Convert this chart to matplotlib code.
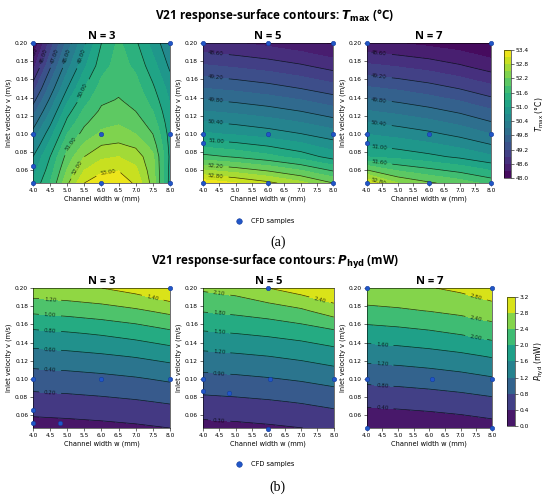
import numpy as np
import matplotlib
matplotlib.use('Agg')
import matplotlib.pyplot as plt
from matplotlib.lines import Line2D

# grids (w in mm, v in m/s)
w_fine = [4.0, 4.5, 5.0, 5.5, 6.0, 6.5, 7.0, 7.5, 8.0]
w_grid = [4.0, 5.0, 6.0, 7.0, 8.0]
v_fine = [0.046, 0.06, 0.075, 0.0875, 0.10, 0.1125, 0.125, 0.1375, 0.15, 0.175, 0.20]
v_grid = [0.046, 0.075, 0.10, 0.125, 0.15, 0.175, 0.20]

# Tmax (°C), rows bottom -> top
tmax_n3 = [
    [49.6, 50.5, 51.9, 53.0, 53.35, 53.4, 52.9, 51.8, 49.8],
    [49.3, 50.25, 51.55, 52.5, 52.9, 52.98, 52.6, 51.7, 49.85],
    [49.0, 50.0, 51.2, 52.0, 52.4, 52.5, 52.3, 51.6, 49.9],
    [48.6, 49.65, 50.85, 51.6, 52.0, 52.08, 51.9, 51.3, 49.85],
    [48.2, 49.3, 50.5, 51.2, 51.6, 51.7, 51.5, 51.0, 49.8],
    [47.75, 48.9, 50.15, 50.9, 51.35, 51.45, 51.25, 50.75, 49.7],
    [47.3, 48.5, 49.8, 50.6, 51.1, 51.2, 51.0, 50.5, 49.6],
    [46.8, 48.1, 49.4, 50.3, 50.9, 51.03, 50.85, 50.3, 49.45],
    [46.3, 47.7, 49.0, 50.0, 50.7, 50.9, 50.7, 50.1, 49.3],
    [45.3, 46.9, 48.3, 49.4, 50.3, 50.7, 50.4, 49.7, 48.9],
    [44.5, 46.2, 47.7, 48.9, 50.0, 50.6, 50.1, 49.3, 48.6],
]
tmax_n5 = [
    [53.3, 53.11, 52.88, 52.59, 52.2],
    [51.7, 51.56, 51.39, 51.17, 50.88],
    [50.75, 50.66, 50.55, 50.41, 50.23],
    [50.11, 50.03, 49.93, 49.8, 49.63],
    [49.51, 49.43, 49.33, 49.2, 49.04],
    [48.93, 48.85, 48.76, 48.64, 48.48],
    [48.38, 48.31, 48.22, 48.1, 47.95],
]
tmax_n7 = [
    [53.1, 52.5, 52.25, 52.05, 51.8],
    [51.29, 51.2, 51.08, 50.94, 50.75],
    [50.69, 50.59, 50.47, 50.31, 50.1],
    [50.12, 50.02, 49.9, 49.75, 49.55],
    [49.55, 49.46, 49.34, 49.19, 49.0],
    [48.96, 48.87, 48.77, 48.63, 48.45],
    [48.36, 48.3, 48.22, 48.13, 48.0],
]

# Phyd (mW)
phyd_n3 = [
    [-0.09, -0.076, -0.058, -0.034, 0.0],
    [0.12, 0.135, 0.155, 0.182, 0.22],
    [0.30, 0.32, 0.346, 0.381, 0.43],
    [0.52, 0.543, 0.573, 0.613, 0.67],
    [0.75, 0.78, 0.82, 0.874, 0.95],
    [1.04, 1.072, 1.114, 1.17, 1.25],
    [1.33, 1.36, 1.40, 1.48, 1.62],
]
phyd_n5 = [
    [0.20, 0.223, 0.255, 0.297, 0.356],
    [0.51, 0.537, 0.573, 0.622, 0.69],
    [0.81, 0.84, 0.88, 0.934, 1.01],
    [1.12, 1.155, 1.20, 1.263, 1.35],
    [1.46, 1.50, 1.55, 1.615, 1.71],
    [1.82, 1.87, 1.94, 2.05, 2.25],
    [2.15, 2.22, 2.40, 2.55, 2.70],
]
phyd_n7 = [
    [0.05, 0.079, 0.117, 0.168, 0.24],
    [0.496, 0.527, 0.567, 0.622, 0.70],
    [0.90, 0.938, 0.989, 1.058, 1.155],
    [1.335, 1.379, 1.438, 1.518, 1.63],
    [1.805, 1.858, 1.929, 2.025, 2.16],
    [2.30, 2.348, 2.412, 2.498, 2.62],
    [2.70, 2.73, 2.78, 2.88, 3.05],
]

# CFD sample points
t3_w = [4, 8, 4, 6, 8, 4, 4, 6, 8]
t3_v = [0.2, 0.2, 0.1, 0.1, 0.1, 0.065, 0.046, 0.046, 0.046]
t5_w = [4, 6, 8, 4, 6, 8, 4, 4, 6, 8]
t5_v = [0.2, 0.2, 0.2, 0.1, 0.1, 0.1, 0.09, 0.046, 0.046, 0.046]
t7_w = [4, 8, 4, 6, 8, 4, 4, 6, 8]
t7_v = [0.2, 0.2, 0.1, 0.1, 0.1, 0.09, 0.046, 0.046, 0.046]
p3_w = [8, 4, 6, 8, 4, 4, 4.78]
p3_v = [0.2, 0.1, 0.1, 0.1, 0.066, 0.051, 0.051]
p5_w = [6, 4, 6.05, 8, 4, 4.8, 6]
p5_v = [0.2, 0.1, 0.1, 0.1, 0.087, 0.085, 0.045]
p7_w = [4, 8, 4, 6.1, 8, 4, 8]
p7_v = [0.2, 0.2, 0.1, 0.1, 0.1, 0.046, 0.046]

fig = plt.figure(figsize=(5.5, 4.98), dpi=100)
fig.patch.set_facecolor('white')

TITLE_FONT = ['Open Sans', 'DejaVu Sans']


def panel(rect, w, v, z, fill_lv, line_lv, lab_pos, pw, pv, title):
    ax = fig.add_axes(rect)
    cf = ax.contourf(w, v, z, levels=fill_lv, cmap='viridis')
    cs = ax.contour(w, v, z, levels=line_lv, colors='k',
                    linewidths=0.5, alpha=0.75)
    ax.clabel(cs, fmt='%.2f', fontsize=4, manual=lab_pos, inline=True)
    ax.scatter(pw, pv, s=10, color='#2156c8', edgecolors='#123c9c',
               linewidths=0.4, zorder=5, clip_on=False)
    ax.set_xlim(4.0, 8.0)
    ax.set_ylim(0.046, 0.20)
    ax.set_xticks(np.arange(4.0, 8.01, 0.5))
    ax.set_yticks(np.arange(0.06, 0.201, 0.02))
    ax.xaxis.set_major_formatter(matplotlib.ticker.FormatStrFormatter('%.1f'))
    ax.yaxis.set_major_formatter(matplotlib.ticker.FormatStrFormatter('%.2f'))
    ax.tick_params(labelsize=4.2, length=2, width=0.4, pad=1.5)
    for s in ax.spines.values():
        s.set_linewidth(0.4)
    ax.set_xlabel('Channel width w (mm)', fontsize=4.8, labelpad=2)
    ax.set_ylabel('Inlet velocity v (m/s)', fontsize=4.8, labelpad=2)
    ax.set_title(title, fontsize=8, fontweight='bold', family=TITLE_FONT, pad=3)
    return cf


# ---- (a) Tmax ----
top_b, top_h = 0.6325, 0.281
panel([0.060, top_b, 0.249, top_h], w_fine, v_fine, tmax_n3,
      np.linspace(44.5, 53.5, 19), np.arange(45, 54),
      [(4.12, 0.185), (4.38, 0.185), (4.72, 0.185), (5.08, 0.185), (5.45, 0.185),
       (5.6, 0.145), (5.25, 0.085), (5.3, 0.063), (6.2, 0.058)],
      t3_w, t3_v, 'N = 3')
panel([0.369, top_b, 0.237, top_h], w_grid, v_grid, tmax_n5,
      np.linspace(47.7, 53.4, 20), np.linspace(48.6, 52.8, 8),
      [(4.4, 0.188), (4.4, 0.162), (4.4, 0.138), (4.4, 0.113), (4.4, 0.09),
       (4.4, 0.066), (4.4, 0.055)],
      t5_w, t5_v, 'N = 5')
cf_t = panel([0.667, top_b, 0.2255, top_h], w_grid, v_grid, tmax_n7,
             np.linspace(48.0, 53.4, 19), np.linspace(48.6, 52.8, 8),
             [(4.4, 0.19), (4.4, 0.165), (4.4, 0.139), (4.4, 0.113), (4.4, 0.086),
              (4.4, 0.066), (4.4, 0.052)],
             t7_w, t7_v, 'N = 7')
cax = fig.add_axes([0.9164, 0.6426, 0.0127, 0.257])
cb = fig.colorbar(cf_t, cax=cax, ticks=np.linspace(48.0, 53.4, 10))
cb.ax.yaxis.set_major_formatter(matplotlib.ticker.FormatStrFormatter('%.1f'))
cb.ax.tick_params(labelsize=4.2, length=2, width=0.4, pad=1.5)
cb.outline.set_linewidth(0.4)
cb.set_label(r'$T_{\mathrm{max}}$ (°C)', fontsize=5.5, labelpad=3)

fig.text(0.5, 0.968, r'V21 response-surface contours: $\boldsymbol{T}_{\mathbf{max}}$ (°C)',
         ha='center', va='center', fontsize=8.5, fontweight='bold', family=TITLE_FONT)

# ---- (b) Phyd ----
bot_b, bot_h = 0.1406, 0.281
panel([0.060, bot_b, 0.249, bot_h], w_grid, v_grid, phyd_n3,
      np.linspace(-0.2, 1.6, 10), np.linspace(0.0, 1.4, 8),
      [(4.5, 0.087), (4.5, 0.112), (4.5, 0.134), (4.5, 0.155), (4.5, 0.172),
       (4.5, 0.188), (7.5, 0.19)],
      p3_w, p3_v, 'N = 3')
panel([0.369, bot_b, 0.238, bot_h], w_grid, v_grid, phyd_n5,
      np.linspace(0.0, 2.7, 10), np.linspace(0.3, 2.4, 8),
      [(4.5, 0.056), (4.5, 0.107), (4.5, 0.131), (4.5, 0.153), (4.5, 0.174),
       (4.5, 0.194), (7.6, 0.19)],
      p5_w, p5_v, 'N = 5')
cf_p = panel([0.667, bot_b, 0.2273, bot_h], w_grid, v_grid, phyd_n7,
             np.linspace(0.0, 3.2, 9), np.linspace(0.4, 2.8, 7),
             [(4.5, 0.069), (4.5, 0.094), (4.5, 0.1176), (4.5, 0.1395),
              (7.5, 0.146), (7.5, 0.166), (7.5, 0.19)],
             p7_w, p7_v, 'N = 7')
cax2 = fig.add_axes([0.9218, 0.1446, 0.0145, 0.259])
cb2 = fig.colorbar(cf_p, cax=cax2, ticks=np.linspace(0.0, 3.2, 9))
cb2.ax.yaxis.set_major_formatter(matplotlib.ticker.FormatStrFormatter('%.1f'))
cb2.ax.tick_params(labelsize=4.2, length=2, width=0.4, pad=1.5)
cb2.outline.set_linewidth(0.4)
cb2.set_label(r'$P_{\mathrm{hyd}}$ (mW)', fontsize=5.5, labelpad=3)

fig.text(0.5, 0.474, r'V21 response-surface contours: $\boldsymbol{P}_{\mathbf{hyd}}$ (mW)',
         ha='center', va='center', fontsize=8.5, fontweight='bold', family=TITLE_FONT)

# legends and panel letters
handle = Line2D([], [], marker='o', linestyle='none', markersize=4,
                markerfacecolor='#2156c8', markeredgecolor='#123c9c',
                markeredgewidth=0.4)
for y in (0.556, 0.068):
    fig.legend([handle], ['CFD samples'], loc='center', bbox_to_anchor=(0.478, y),
               frameon=False, fontsize=4.8, handletextpad=0.8)

fig.text(0.505, 0.514, '(a)', ha='center', va='center', fontsize=10,
         family='Liberation Serif')
fig.text(0.505, 0.022, '(b)', ha='center', va='center', fontsize=10,
         family='Liberation Serif')

fig.savefig('out.png', dpi=100, facecolor='white')
